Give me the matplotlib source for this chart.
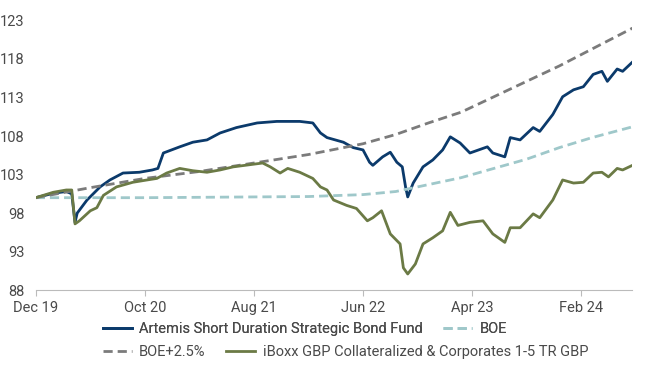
import matplotlib
matplotlib.use("Agg")
from matplotlib import pyplot as plt

plt.rcParams["font.family"] = ["Roboto", "DejaVu Sans"]

# x positions are months after Dec 2019
tickMonths = [0, 10, 20, 30, 40, 50]
tickLabels = ["Dec 19", "Oct 20", "Aug 21", "Jun 22", "Apr 23", "Feb 24"]
yTicks = [88, 93, 98, 103, 108, 113, 118, 123]

fundMonths = [0, 1.7, 2.8, 3.3, 3.6, 3.8, 4.7, 5.9, 6.8, 8.0, 9.5, 10.7, 11.2,
              11.7, 13.2, 14.4, 15.7, 16.9, 18.4, 20.3, 22.1, 24.2, 25.4, 26.1,
              26.7, 28.2, 29.1, 30.0, 30.6, 30.9, 31.8, 32.5, 33.1, 33.6, 33.9,
              34.1, 34.6, 35.5, 36.4, 37.3, 38.0, 38.9, 39.8, 41.4, 41.9, 43.0,
              43.5, 44.4, 45.6, 46.2, 47.4, 48.3, 49.3, 50.2, 51.1, 51.9, 52.4,
              53.3, 53.8, 54.7]
fundValues = [100.0, 100.6, 100.8, 100.5, 96.8, 98.0, 99.7, 101.4, 102.3, 103.2,
              103.3, 103.6, 103.8, 105.8, 106.6, 107.2, 107.5, 108.4, 109.1,
              109.7, 109.9, 109.9, 109.7, 108.4, 107.8, 107.2, 106.5, 106.2,
              104.6, 104.2, 105.3, 105.9, 104.6, 104.0, 101.4, 100.1, 101.9,
              104.0, 104.9, 106.2, 107.9, 107.1, 105.8, 106.6, 105.8, 105.3,
              107.8, 107.5, 109.1, 108.6, 110.8, 113.1, 114.0, 114.4, 116.0,
              116.4, 115.1, 116.7, 116.4, 117.6]

iboxxMonths = [0, 1.6, 2.8, 3.3, 3.6, 4.0, 5.0, 5.6, 6.2, 7.4, 8.9, 10.2, 11.1,
               12.0, 13.2, 14.4, 15.7, 16.9, 18.1, 20.8, 21.5, 22.4, 23.1, 24.2,
               25.4, 26.1, 26.7, 27.3, 28.5, 29.4, 30.4, 30.9, 31.7, 32.5, 33.4,
               33.7, 34.1, 34.8, 35.5, 36.4, 37.3, 38.0, 38.7, 39.8, 41.0, 41.9,
               43.0, 43.5, 44.4, 45.6, 46.2, 47.4, 48.3, 49.3, 50.2, 51.1, 51.9,
               52.5, 53.3, 53.8, 54.7]
iboxxValues = [100.0, 100.7, 101.0, 101.0, 96.6, 97.0, 98.3, 98.7, 100.3, 101.4,
               102.0, 102.3, 102.5, 103.2, 103.8, 103.5, 103.3, 103.6, 104.0,
               104.5, 104.0, 103.2, 103.8, 103.3, 102.5, 101.4, 101.0, 99.7,
               99.0, 98.6, 97.0, 97.4, 98.3, 95.3, 94.0, 90.9, 90.1, 91.4, 94.0,
               94.8, 95.7, 98.1, 96.4, 96.8, 97.0, 95.3, 94.2, 96.1, 96.1, 97.9,
               97.4, 99.7, 102.3, 101.9, 102.0, 103.2, 103.3, 102.7, 103.8,
               103.6, 104.2]

rateMonths = [0, 5, 10, 15, 20, 25, 30, 33, 36, 39, 42, 45, 48, 51, 54.7]
boeValues = [100.0, 100.0, 100.0, 100.05, 100.1, 100.15, 100.4, 100.8, 101.7,
             102.6, 103.8, 105.0, 106.5, 107.8, 109.2]
boePlusValues = [100.0, 101.3, 102.5, 103.4, 104.5, 105.6, 107.0, 108.2, 109.7,
                 111.1, 113.1, 115.1, 117.1, 119.3, 122.0]

textColor = "#4a4a4a"

fig = plt.figure(figsize=(6.5, 3.72), dpi=100)
ax = fig.add_axes([0.055, 0.22, 0.918, 0.725])

fundLine, = ax.plot(fundMonths, fundValues, color="#0b3a6b", linewidth=2.0,
                    label="Artemis Short Duration Strategic Bond Fund")
boeLine, = ax.plot(rateMonths, boeValues, color="#9fc8ca", linewidth=2.0,
                   dashes=(3.3, 1.8), label="BOE")
boePlusLine, = ax.plot(rateMonths, boePlusValues, color="#7b7b7b", linewidth=2.0,
                       dashes=(3.3, 1.8), label="BOE+2.5%")
iboxxLine, = ax.plot(iboxxMonths, iboxxValues, color="#6b7a45", linewidth=2.0,
                     label="iBoxx GBP Collateralized & Corporates 1-5 TR GBP")

ax.set_xlim(0, 54.7)
ax.set_ylim(88, 123)
ax.set_yticks(yTicks)
ax.set_xticks(tickMonths, tickLabels)
ax.tick_params(axis="y", length=0, pad=8, labelsize=10.5, labelcolor=textColor)
ax.tick_params(axis="x", length=4, color="#bbbbbb", pad=4, labelsize=10.5,
               labelcolor=textColor)
for side in ["top", "right", "left"]:
    ax.spines[side].set_visible(False)
ax.spines["bottom"].set_color("#bbbbbb")

legendStyle = dict(
    frameon=False,
    ncol=2,
    loc="center left",
    fontsize=10.5,
    handlelength=2.0,
    handletextpad=0.5,
    columnspacing=1.4,
    borderpad=0,
    borderaxespad=0,
    labelcolor=textColor,
)
firstRow = fig.legend([fundLine, boeLine], [fundLine.get_label(), boeLine.get_label()],
                      bbox_to_anchor=(0.158, 0.115), **legendStyle)
fig.legend([boePlusLine, iboxxLine], [boePlusLine.get_label(), iboxxLine.get_label()],
           bbox_to_anchor=(0.158, 0.054), **legendStyle)
fig.add_artist(firstRow)

plt.savefig("out.png", dpi=100)
